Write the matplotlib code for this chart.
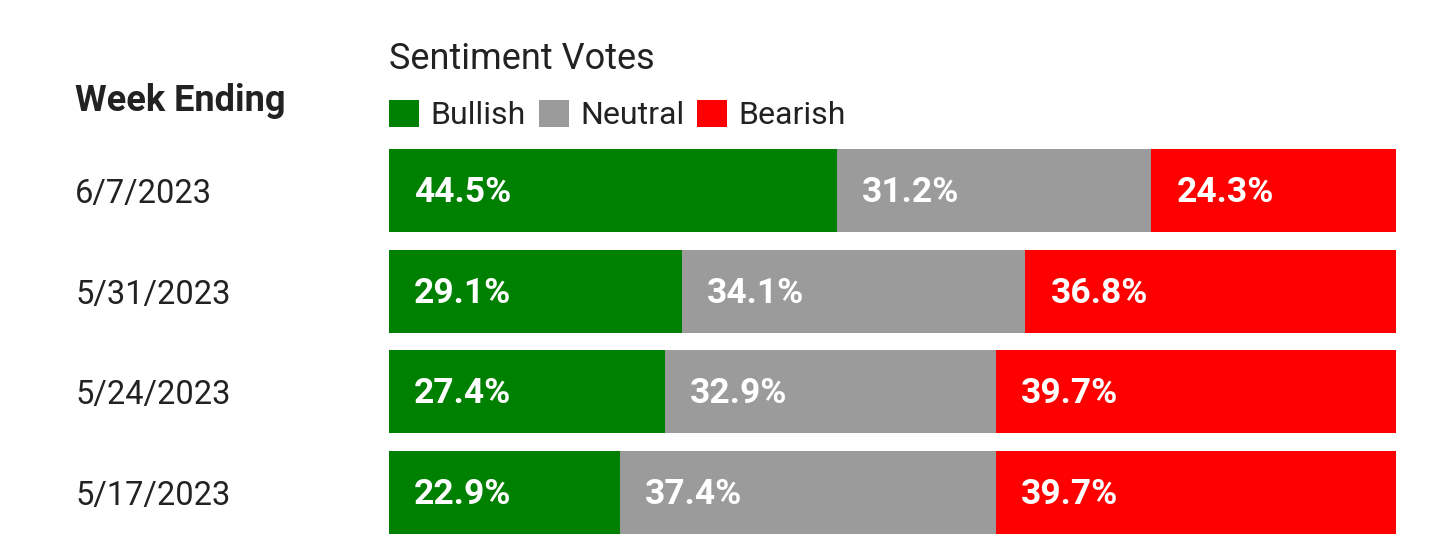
"""
Sentiment votes by week - stacked horizontal bars
"""
import matplotlib.pyplot as plt
from matplotlib.patches import Patch
import numpy as np

plt.rcParams['font.family'] = ['Roboto', 'DejaVu Sans']

# Data
weeks = ['6/7/2023', '5/31/2023', '5/24/2023', '5/17/2023']
bullish = [44.5, 29.1, 27.4, 22.9]
neutral = [31.2, 34.1, 32.9, 37.4]
bearish = [24.3, 36.8, 39.7, 39.7]

series = [('Bullish', bullish, '#008000'),
          ('Neutral', neutral, '#9b9b9b'),
          ('Bearish', bearish, '#ff0000')]

W, H, DPI = 1456, 560, 100
fig = plt.figure(figsize=(W / DPI, H / DPI), dpi=DPI)
# axes spans exactly the bar area (pixels 389..1396 wide, 149..534 tall)
ax = fig.add_axes([389 / W, 1 - 534 / H, (1396 - 389) / W, (534 - 149) / H])

y = np.arange(len(weeks))
bar_h = 0.825
left = np.zeros(len(weeks))
for name, vals, color in series:
    vals = np.array(vals)
    ax.barh(y, vals, left=left, height=bar_h, color=color, edgecolor='none')
    for yi, (l, v) in enumerate(zip(left, vals)):
        ax.annotate(f'{v:.1f}%', (l, yi), xytext=(18, -1.5), textcoords='offset points',
                    ha='left', va='center', color='white', fontsize=25.5, fontweight='bold')
    left += vals

ax.set_xlim(0, 100)
ax.set_ylim(len(weeks) - 1 + bar_h / 2, -bar_h / 2)
ax.set_yticks(y)
ax.set_yticklabels(weeks, fontsize=23.5, color='#222222', ha='left')
ax.tick_params(axis='y', length=0, pad=(389 - 75) * 72 / DPI)
ax.set_xticks([])
for s in ax.spines.values():
    s.set_visible(False)

# headers
fig.text(75 / W, 1 - 101 / H, 'Week Ending', fontsize=26, fontweight='bold',
         color='#222222', ha='left', va='center')
fig.text(389 / W, 1 - 59 / H, 'Sentiment Votes', fontsize=26,
         color='#222222', ha='left', va='center')

handles = [Patch(facecolor=c, label=n) for n, _, c in series]
leg = ax.legend(handles=handles, ncol=3, loc='center left',
                bbox_to_anchor=(0, 1 + (149 - 115) / (534 - 149)),
                frameon=False, fontsize=23, handlelength=0.95, handleheight=0.95,
                handletextpad=0.35, columnspacing=0.4, borderaxespad=0, borderpad=0)
for t in leg.get_texts():
    t.set_color('#222222')

plt.savefig('out.png', dpi=DPI)
